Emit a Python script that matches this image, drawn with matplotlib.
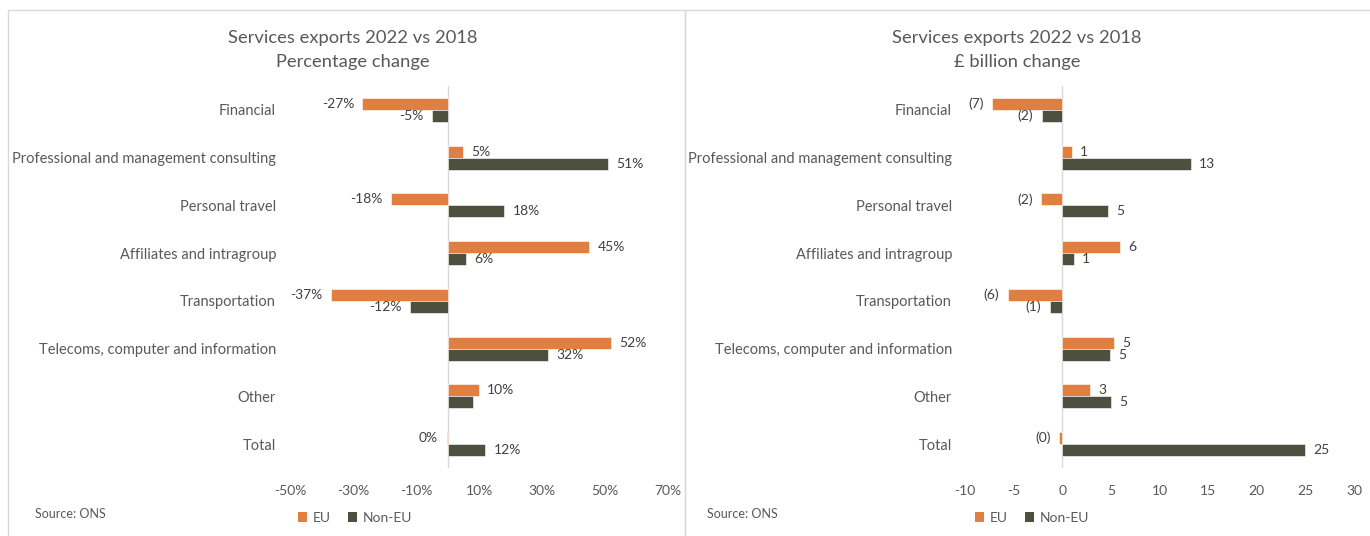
import matplotlib
matplotlib.use("Agg")
import matplotlib.pyplot as plt
from matplotlib.patches import Patch, Rectangle
import numpy as np

plt.rcParams['font.family'] = ['Lato', 'DejaVu Sans']

categories = [
    "Financial",
    "Professional and management consulting",
    "Personal travel",
    "Affiliates and intragroup",
    "Transportation",
    "Telecoms, computer and information",
    "Other",
    "Total",
]

# Percentage change, 2022 vs 2018
pct_eu = [-27, 5, -18, 45, -37, 52, 10, -0.3]
pct_noneu = [-5, 51, 18, 6, -12, 32, 8, 12]
# the "Other" non-EU percentage carries no data label
pct_noneu_unlabelled = ["Other"]

# £ billion change, 2022 vs 2018
bn_eu = [-7.2, 1.0, -2.2, 5.9, -5.6, 5.3, 2.9, -0.3]
bn_noneu = [-2.1, 13.2, 4.7, 1.2, -1.3, 4.9, 5.0, 25.0]

pct_ticks = [-50, -30, -10, 10, 30, 50, 70]
bn_ticks = [-10, -5, 0, 5, 10, 15, 20, 25, 30]

series_names = ["EU", "Non-EU"]
EU_COLOR = "#E07F40"
NONEU_COLOR = "#4F4F3F"
TEXT = "#595959"
LABEL = "#404040"
GRID = "#D9D9D9"

W, H = 1370, 536
fig = plt.figure(figsize=(W / 100, H / 100), dpi=100)


def fx(px):
    return px / W


def fy(py):
    return 1 - py / H


def fmt_pct(v):
    r = int(round(v))
    return f"{r}%" if r != 0 else "0%"


def fmt_bn(v):
    r = int(round(abs(v)))
    return f"({r})" if v < 0 else f"{r}"


def draw_panel(x0, x1, eu, noneu, xlim, ticks, tick_fmt, lab_fmt,
               label_pad, skip_eu=(), skip_noneu=()):
    ax = fig.add_axes([fx(x0), fy(468), fx(x1 - x0), (468 - 86) / H])
    y = np.arange(len(categories))
    h = 0.25
    ax.barh(y - h / 2, eu, height=h, color=EU_COLOR, edgecolor="white", linewidth=0.4)
    ax.barh(y + h / 2, noneu, height=h, color=NONEU_COLOR, edgecolor="white", linewidth=0.4)
    ax.set_xlim(*xlim)
    ax.set_ylim(len(categories) - 0.5, -0.5)
    ax.axvline(0, color=GRID, lw=1, zorder=0)
    for s in ax.spines.values():
        s.set_visible(False)
    ax.set_yticks(y)
    ax.set_yticklabels(categories, fontsize=10.5, color=TEXT)
    ax.set_xticks(ticks)
    ax.set_xticklabels([tick_fmt(t) for t in ticks], fontsize=10, color=TEXT)
    ax.tick_params(length=0)
    ax.tick_params(axis="y", pad=label_pad)
    ax.tick_params(axis="x", pad=12)
    for vals, off, skip in ((eu, -h / 2, skip_eu), (noneu, h / 2, skip_noneu)):
        for cat, yi, v in zip(categories, y, vals):
            if cat in skip:
                continue
            ha = "left" if v >= 0 else "right"
            dx = 6 if v >= 0 else -6
            ax.annotate(lab_fmt(v), (v, yi + off), xytext=(dx, 0),
                        textcoords="offset points", ha=ha, va="center",
                        fontsize=10, color=LABEL)
    return ax


ax1 = draw_panel(290, 668, pct_eu, pct_noneu, (-50, 70), pct_ticks,
                 lambda t: f"{t}%", fmt_pct, (290 - 276) * 0.72,
                 skip_noneu=pct_noneu_unlabelled)
ax2 = draw_panel(965, 1354, bn_eu, bn_noneu, (-10, 30), bn_ticks,
                 lambda t: f"{t}", fmt_bn, (965 - 952) * 0.72)

# titles
for cx, sub in ((353, "Percentage change"), (1017, "£ billion change")):
    fig.text(fx(cx), fy(38), "Services exports 2022 vs 2018", ha="center",
             va="center", fontsize=13.2, color=TEXT)
    fig.text(fx(cx), fy(62), sub, ha="center", va="center", fontsize=13.2, color=TEXT)

# source notes
for sx in (35, 707):
    fig.text(fx(sx), fy(514), "Source: ONS", ha="left", va="center",
             fontsize=9, color=TEXT)

# legends
handles = [Patch(facecolor=EU_COLOR), Patch(facecolor=NONEU_COLOR)]
for lx in (355, 1032):
    fig.legend(handles, series_names, loc="center", ncol=2, frameon=False,
               bbox_to_anchor=(fx(lx), fy(518)), fontsize=10,
               handlelength=0.7, handleheight=0.7, handletextpad=0.4,
               columnspacing=1.2, labelcolor=TEXT)

# panel frames
fig.add_artist(Rectangle((fx(8), fy(560)), fx(677), (560 - 10) / H,
                         transform=fig.transFigure, fill=False,
                         edgecolor=GRID, lw=1))
fig.add_artist(Rectangle((fx(685), fy(560)), fx(700), (560 - 10) / H,
                         transform=fig.transFigure, fill=False,
                         edgecolor=GRID, lw=1))

fig.savefig("out.png", dpi=100)
